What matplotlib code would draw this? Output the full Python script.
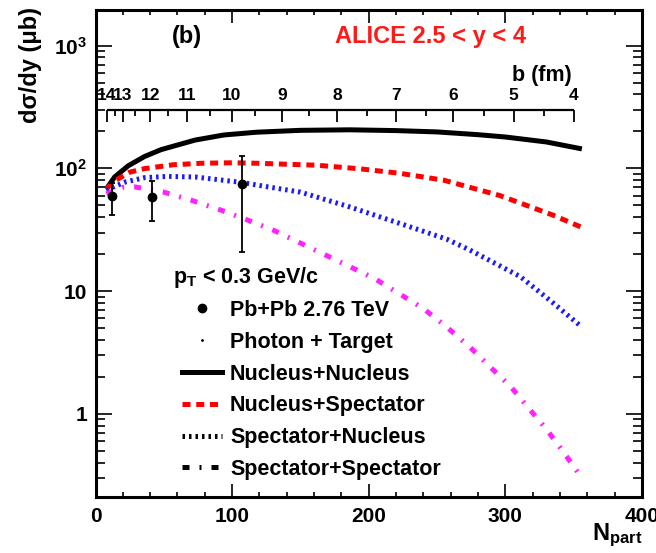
import matplotlib
matplotlib.use('Agg')
import matplotlib.pyplot as plt
import matplotlib.transforms as mtransforms
from matplotlib.lines import Line2D
from matplotlib.ticker import FixedLocator, MultipleLocator, LogLocator, NullFormatter, FuncFormatter

plt.rcParams['font.family'] = ['Liberation Sans', 'DejaVu Sans']
plt.rcParams['font.weight'] = 'bold'
plt.rcParams['mathtext.fontset'] = 'custom'
plt.rcParams['mathtext.rm'] = 'Liberation Sans:bold'
plt.rcParams['mathtext.bf'] = 'Liberation Sans:bold'
plt.rcParams['mathtext.it'] = 'Liberation Sans:bold'
plt.rcParams['mathtext.default'] = 'rm'

# ---------------- data ----------------
nn_npart = [8, 14, 24, 36, 48, 61, 73, 94, 118, 150, 186, 220, 250, 280, 300, 330, 356]
nn_val = [68, 85, 105, 125, 142, 156, 170, 187, 197, 204, 206, 203, 198, 188, 180, 164, 144]

ns_npart = [8, 14, 25, 36, 57, 78, 100, 118, 162, 194, 223, 255, 296, 335, 356]
ns_val = [68, 79, 93, 99.5, 107, 110, 111, 110, 106, 99, 91, 80, 60, 41.5, 33]

sn_npart = [8, 11, 22, 36, 53, 73, 106, 125, 150, 186, 223, 257, 274, 311, 335, 355]
sn_val = [66, 69, 77.5, 84, 86, 85, 77, 71, 64, 48.5, 35.5, 26.5, 21.6, 13.1, 8.0, 5.2]

ss_npart = [8, 20, 29, 50, 70, 91, 111, 130, 167, 204, 240, 257, 274, 289, 304, 318, 330, 343, 356]
ss_val = [62, 70, 70.5, 64, 55, 46, 38, 31.4, 20, 12.7, 7.2, 5.1, 3.5, 2.4, 1.66, 1.08, 0.75, 0.48, 0.30]

data_npart = [12, 41.5, 107.5]
data_val = [59, 58, 74]
data_err = [17, 21, 53]

b_major = [14, 13, 12, 11, 10, 9, 8, 7, 6, 5, 4]
b_major_npart = [8.2, 20, 40, 66.8, 99.8, 136.8, 177, 220, 262, 306, 350]
b_minor_npart = [14.3, 29, 53, 84, 117, 156.6, 198.7, 242, 284, 328]

x_ticks = [0, 100, 200, 300, 400]
y_labels = {1000: '$10^3$', 100: '$10^2$', 10: '10', 1: '1'}

# ---------------- figure ----------------
W, H = 656, 553
fig = plt.figure(figsize=(W / 100, H / 100), dpi=100)
L, R, T, B = 95.5, 642, 10, 497
ax = fig.add_axes([L / W, 1 - B / H, (R - L) / W, (B - T) / H])

lw = 3.6
dash_ns = (0, (1.6, 1.15))
dash_sn = (0, (0.5, 0.8))
dash_ss = (0, (1.4, 2.0, 0.4, 2.0))
ax.plot(nn_npart, nn_val, color='black', lw=lw, solid_capstyle='butt', solid_joinstyle='round')
ax.plot(ns_npart, ns_val, color='red', lw=lw, linestyle=dash_ns, dash_capstyle='butt')
ax.plot(sn_npart, sn_val, color='#1a1aff', lw=lw, linestyle=dash_sn, dash_capstyle='butt')
ax.plot(ss_npart, ss_val, color='#ff22ff', lw=lw, linestyle=dash_ss, dash_capstyle='butt')
ax.errorbar(data_npart, data_val, yerr=data_err, fmt='o', color='black', markersize=6,
            elinewidth=1.3, capsize=2, capthick=1.3, zorder=5)

ax.set_yscale('log')
ax.set_xlim(0, 400)
ax.set_ylim(0.21, 1950)

ax.xaxis.set_major_locator(FixedLocator(x_ticks))
ax.xaxis.set_minor_locator(MultipleLocator(20))
ax.yaxis.set_major_locator(FixedLocator(list(y_labels.keys())))
ax.yaxis.set_minor_locator(LogLocator(base=10, subs=range(2, 10)))
ax.yaxis.set_minor_formatter(NullFormatter())
ax.yaxis.set_major_formatter(FuncFormatter(lambda v, p: y_labels.get(int(round(v)), '')))

ax.tick_params(which='both', direction='in', top=True, right=True, width=1.2, labelsize=15)
ax.tick_params(axis='x', which='major', length=9.5, pad=7)
ax.tick_params(axis='x', which='minor', length=3.8)
ax.tick_params(axis='y', which='major', length=11.5, pad=6)
ax.tick_params(axis='y', which='minor', length=6.5)
for s in ax.spines.values():
    s.set_linewidth(2.2)

# ---------------- top b axis ----------------
trans = mtransforms.blended_transform_factory(ax.transData, ax.transAxes)
yb = (B - 110) / (B - T)
ax.plot([b_major_npart[0], b_major_npart[-1]], [yb, yb], color='black', lw=1.6,
        transform=trans, clip_on=False, solid_capstyle='butt')
ax.vlines(b_major_npart, yb - 12 / (B - T), yb, color='black', lw=1.3, transform=trans)
ax.vlines(b_minor_npart, yb - 6 / (B - T), yb, color='black', lw=1.3, transform=trans)
for bv, xn in zip(b_major, b_major_npart):
    ax.text(xn, (B - 95) / (B - T), str(bv), transform=trans, ha='center', va='center',
            fontsize=12.5, fontweight='bold')
ax.text((572 - L) / (R - L), (B - 75) / (B - T), 'b (fm)', transform=ax.transAxes,
        ha='right', va='center', fontsize=15.5, fontweight='bold')

ax.text((187 - L) / (R - L), (B - 37) / (B - T), '(b)', transform=ax.transAxes,
        ha='center', va='center', fontsize=17, fontweight='bold')
ax.text((335 - L) / (R - L), (B - 37) / (B - T), 'ALICE 2.5 < y < 4', transform=ax.transAxes,
        ha='left', va='center', fontsize=17, fontweight='bold', color='#ff1a1a')

fig.text(30 / W, 1 - 7 / H, 'dσ/dy (μb)', rotation=90, ha='center', va='top',
         fontsize=17, fontweight='bold')
fig.text(R / W, 1 - 535 / H, '$N_{part}$', ha='right', va='center', fontsize=17)

# ---------------- legend ----------------
ax.text((173 - L) / (R - L), (B - 278) / (B - T), '$p_T$ < 0.3 GeV/c', transform=ax.transAxes,
        ha='left', va='center', fontsize=15.5)
handles = [
    Line2D([], [], marker='o', color='black', linestyle='none', markersize=6),
    Line2D([], [], marker='.', color='black', linestyle='none', markersize=2),
    Line2D([], [], color='black', lw=lw),
    Line2D([], [], color='red', lw=lw, linestyle=dash_ns, dash_capstyle='butt'),
    Line2D([], [], color='black', lw=lw, linestyle=dash_sn, dash_capstyle='butt'),
    Line2D([], [], color='black', lw=lw, linestyle=dash_ss, dash_capstyle='butt'),
]
labels = ['Pb+Pb 2.76 TeV', 'Photon + Target', 'Nucleus+Nucleus', 'Nucleus+Spectator',
          'Spectator+Nucleus', 'Spectator+Spectator']
leg = ax.legend(handles, labels, loc='upper left',
                bbox_to_anchor=((182 - L) / (R - L), (B - 300) / (B - T)),
                frameon=False, borderpad=0, borderaxespad=0, handlelength=1.86,
                handletextpad=0.37, labelspacing=0.5,
                prop={'size': 15.5, 'weight': 'bold'})

fig.savefig('out.png', dpi=100)
